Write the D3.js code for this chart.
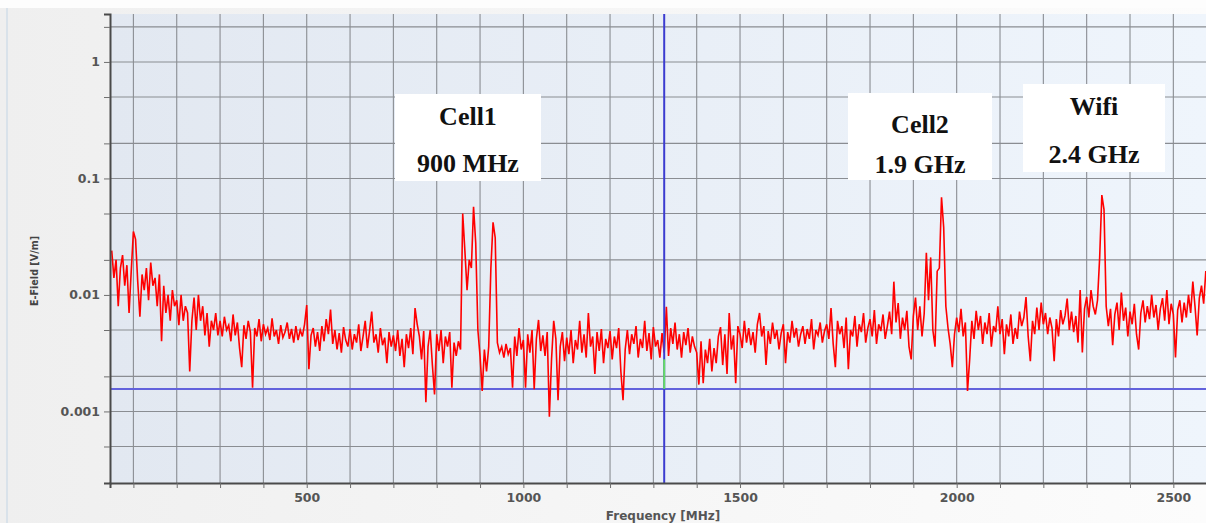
<!DOCTYPE html>
<html><head><meta charset="utf-8">
<script src="https://cdn.jsdelivr.net/npm/d3@7"></script>
<style>body{margin:0;background:#fff;overflow:hidden} svg{display:block}</style>
</head><body><svg id="c" width="1206" height="523"></svg>
<script>
// ---- data ----
const freqStartMHz = 50;
const freqStepMHz = 5;
// E-field readings in mV/m, one every 5 MHz from 50 MHz
const efield_mV = [
 24,14,20,8,17,22,12,18,7,16,
 35,30,13,6.5,15,11,17,9,19,12,
 14,8,15,4,12,7,10,6,11,8,
 9,5.5,10,6,8,7,2.2,6,9.5,5,
 10,6,8,4.5,7,3.6,6,5,7,4.5,
 6,4.4,6.5,5,5.5,4,6.8,4.5,5.8,3.5,
 2.4,5.5,4.2,6,4.8,1.6,5.2,4.4,6.2,4,
 5.6,4.6,5.2,4.1,6.3,4.4,5,3.8,5.5,4.3,
 4.8,5.8,4.2,5.1,3.9,5.4,4.1,5,4.4,5.6,
 8.2,2.3,4.5,5.2,3.6,4.8,3.3,5.4,4.0,6.2,
 4.6,7.5,3.8,5.0,3.4,4.7,3.2,5.3,4.1,3.6,
 5.1,3.4,4.6,3.9,5.6,3.3,4.4,6.0,3.5,4.9,
 7.2,3.9,4.6,3.2,5.2,3.7,4.3,2.6,4.8,3.6,
 4.5,3.3,5.0,3.0,4.2,2.4,4.6,3.5,5.2,3.1,
 7.7,5.6,4.4,2.8,4.9,1.2,3.6,5.0,2.5,1.4,
 4.6,3.3,5.0,2.6,4.4,3.6,4.8,1.6,3.9,3.0,
 4.0,3.4,50,24,11,20,17,57,28,5.0,
 3.0,1.5,3.4,2.2,3.6,17,42,31,3.9,3.2,
 3.6,2.9,3.8,3.1,3.5,1.6,4.4,3.0,5.2,3.4,
 4.1,1.6,4.6,3.2,5.0,1.55,4.2,6.1,3.3,4.5,
 3.0,4.8,0.9,2.8,6.0,4.2,1.25,3.6,4.8,2.7,
 4.3,3.1,5.0,2.6,4.1,3.4,6.0,3.2,4.6,2.9,
 7.0,3.6,4.4,2.1,4.8,3.3,5.1,2.6,4.2,3.5,
 4.9,2.8,4.4,3.5,5.2,2.2,1.25,3.4,5.0,3.1,
 4.6,3.8,5.4,2.9,4.2,3.5,6.0,3.3,4.7,2.8,
 5.3,3.6,4.1,2.9,4.7,3.2,7.9,3.0,5.2,3.8,
 5.8,3.4,4.6,2.9,4.8,3.7,5.2,3.2,4.4,3.6,
 3.2,1.7,4.0,1.75,3.4,2.6,4.2,2.2,3.5,2.6,
 4.4,5.3,2.5,4.6,2.1,7.0,3.4,4.5,1.75,5.4,
 4.6,3.5,6.0,3.9,5.2,3.7,4.8,3.2,5.6,7.0,
 4.4,5.4,2.5,4.9,3.8,5.8,4.2,5.0,3.4,4.7,
 5.6,2.6,4.8,3.9,6.0,4.3,5.2,3.6,4.6,5.4,
 3.8,5.1,4.2,6.2,3.4,5.0,4.5,5.8,3.9,4.9,
 5.6,4.2,7.7,3.8,2.4,6.0,4.6,5.4,3.5,6.4,
 2.3,5.0,4.4,6.6,3.6,5.6,4.8,7.0,3.9,5.2,
 6.2,4.4,7.4,3.8,5.6,4.9,6.8,4.2,5.4,7.2,
 4.6,13,5.8,8.5,4.2,6.4,5.0,7.3,3.6,2.8,
 6.6,9.5,5.0,8.0,4.4,6.9,23,9.0,21,5.0,
 3.6,16,17,69,38,8.0,5.2,3.8,2.4,4.6,
 6.4,4.8,7.6,4.4,5.8,1.5,2.8,6.0,4.2,7.3,
 5.0,6.6,3.8,5.8,4.6,7.0,3.6,5.4,4.8,8.0,
 4.6,6.2,3.1,5.6,4.4,6.8,3.8,5.2,4.2,7.2,
 5.4,6.4,9.6,4.4,2.7,6.0,4.6,7.8,5.0,8.6,
 5.6,7.0,4.6,6.4,5.2,2.7,6.2,4.4,7.4,5.6,
 6.6,9.3,5.0,7.2,4.8,6.6,3.9,11,3.2,7.6,
 9.6,6.4,11,8.0,6.8,9.0,21,72,54,8.0,
 5.4,7.6,3.7,6.8,8.6,5.0,10.5,6.0,7.8,4.4,
 7.2,5.6,8.4,4.6,3.4,7.0,9.0,5.8,8.0,6.2,
 10,6.4,8.2,5.0,7.6,9.4,6.0,11,5.6,8.4,
 6.8,2.9,7.4,9.0,5.8,8.6,6.4,10,7.0,13,
 8.0,4.5,9.4,12,8.4,16,11
];
const xTickLabels = [500, 1000, 1500, 2000, 2500];
const yTickLabels = [0.001, 0.01, 0.1, 1];
const cursorFreqMHz = 1325;
const cursorLevel = 0.0028;
const refLevelVm = 0.00156;
const annotationLines = [
  ["Cell1", "900 MHz"],
  ["Cell2", "1.9 GHz"],
  ["Wifi", "2.4 GHz"]
];

// ---- drawing ----
const W = 1206, H = 523;
const L = 110, T = 14, B = 483, R = 1208;
const svg = d3.select("#c");
const defs = svg.append("defs");

const og = defs.append("linearGradient").attr("id","outerG").attr("x1","0").attr("x2","1").attr("y1","0").attr("y2","0");
og.append("stop").attr("offset","0").attr("stop-color","#efefef");
og.append("stop").attr("offset","1").attr("stop-color","#fcfcfc");
const pg = defs.append("linearGradient").attr("id","plotG").attr("x1","0").attr("x2","1").attr("y1","0").attr("y2","0");
pg.append("stop").attr("offset","0").attr("stop-color","#e2e8f1");
pg.append("stop").attr("offset","1").attr("stop-color","#eff5fc");
defs.append("clipPath").attr("id","clip").append("rect").attr("x",L).attr("y",T).attr("width",R-L).attr("height",B-T);

svg.append("rect").attr("width",W).attr("height",H).attr("fill","url(#outerG)");
svg.append("rect").attr("width",W).attr("height",8).attr("fill","#fdfdfd");
svg.append("rect").attr("x",6).attr("y",8).attr("width",2).attr("height",H-8).attr("fill","#d9e2ea");

const x = d3.scaleLinear().domain([46, 2580]).range([L, R]);
const y = d3.scaleLog().domain([2.43e-4, 2.58]).range([B, T]);

svg.append("rect").attr("x",L).attr("y",T).attr("width",R-L).attr("height",B-T).attr("fill","url(#plotG)");

const xGrid = d3.range(100, 2600, 100);
const yGrid = [];
[1e-4,1e-3,1e-2,1e-1,1].forEach(d => [1,2,5].forEach(m => { const v = d*m; if (v > 2.43e-4 && v < 2.58) yGrid.push(v); }));

const grid = svg.append("g");
grid.selectAll(".vg").data(xGrid).join("line")
  .attr("x1", d => x(d)).attr("x2", d => x(d)).attr("y1", T).attr("y2", B)
  .attr("stroke","#8a8d92").attr("stroke-width",1.1);
grid.selectAll(".hg").data(yGrid).join("line")
  .attr("x1", L).attr("x2", R).attr("y1", d => y(d)).attr("y2", d => y(d))
  .attr("stroke","#8a8d92").attr("stroke-width",1.1);

// reference lines
svg.append("line").attr("x1",L).attr("x2",R).attr("y1",y(refLevelVm)).attr("y2",y(refLevelVm))
  .attr("stroke","#6262dc").attr("stroke-width",2);

// trace
const data = efield_mV.map((v,i) => ({f: freqStartMHz + i*freqStepMHz, v: v/1000}));
const line = d3.line().x(d => x(d.f)).y(d => y(d.v));
svg.append("path").datum(data).attr("clip-path","url(#clip)")
  .attr("d", line).attr("fill","none").attr("stroke","#ff0000").attr("stroke-width",1.6).attr("stroke-linejoin","miter");

svg.append("line").attr("x1",x(cursorFreqMHz)).attr("x2",x(cursorFreqMHz)).attr("y1",T).attr("y2",B)
  .attr("stroke","#3c3cd0").attr("stroke-width",2);
svg.append("line").attr("x1",x(cursorFreqMHz)).attr("x2",x(cursorFreqMHz)).attr("y1",y(cursorLevel)).attr("y2",y(refLevelVm))
  .attr("stroke","#66dd66").attr("stroke-width",2);

// axes
const fmtY = d => yTickLabels.includes(d) ? String(d) : "";
const yAxis = svg.append("g").attr("transform",`translate(${L},0)`)
  .call(d3.axisLeft(y).tickValues(yGrid).tickSize(6).tickPadding(4).tickFormat(fmtY));
const xAxis = svg.append("g").attr("transform",`translate(0,${B})`)
  .call(d3.axisBottom(x).tickValues(xGrid).tickSize(5).tickPadding(5).tickFormat(d => xTickLabels.includes(d) ? String(d) : ""));
[yAxis, xAxis].forEach(a => {
  a.select(".domain").attr("stroke","#4a4a4a").attr("stroke-width",2);
  a.selectAll(".tick line").attr("stroke","#6f6f6f");
  a.selectAll("text").attr("font-family","'DejaVu Sans', Verdana, sans-serif").attr("font-weight","bold")
    .attr("font-size","12.5px").attr("fill","#555");
});

svg.append("text").attr("x", 663).attr("y", 520).attr("text-anchor","middle")
  .attr("font-family","'DejaVu Sans', Verdana, sans-serif").attr("font-weight","bold").attr("font-size","12px").attr("fill","#555")
  .text("Frequency [MHz]");
svg.append("text").attr("transform","translate(38,271) rotate(-90)").attr("text-anchor","middle")
  .attr("font-family","'DejaVu Sans', Verdana, sans-serif").attr("font-weight","bold").attr("font-size","9.6px").attr("fill","#444")
  .text("E-Field [V/m]");

// annotation boxes
const boxes = [
  {x0:395, y0:94, w:146, h:87, cx:468, b1:125, b2:172},
  {x0:848, y0:93, w:144, h:87, cx:920, b1:133, b2:173},
  {x0:1023, y0:84, w:142, h:88, cx:1094, b1:115, b2:163}
];
boxes.forEach((bx, i) => {
  const g = svg.append("g");
  g.append("rect").attr("x",bx.x0).attr("y",bx.y0).attr("width",bx.w).attr("height",bx.h).attr("fill","#fff");
  [bx.b1, bx.b2].forEach((by, j) => {
    g.append("text").attr("x",bx.cx).attr("y",by).attr("text-anchor","middle")
      .attr("font-family","'Liberation Serif','Times New Roman',serif").attr("font-weight","bold")
      .attr("font-size","26px").attr("fill","#111").text(annotationLines[i][j]);
  });
});
</script></body></html>
